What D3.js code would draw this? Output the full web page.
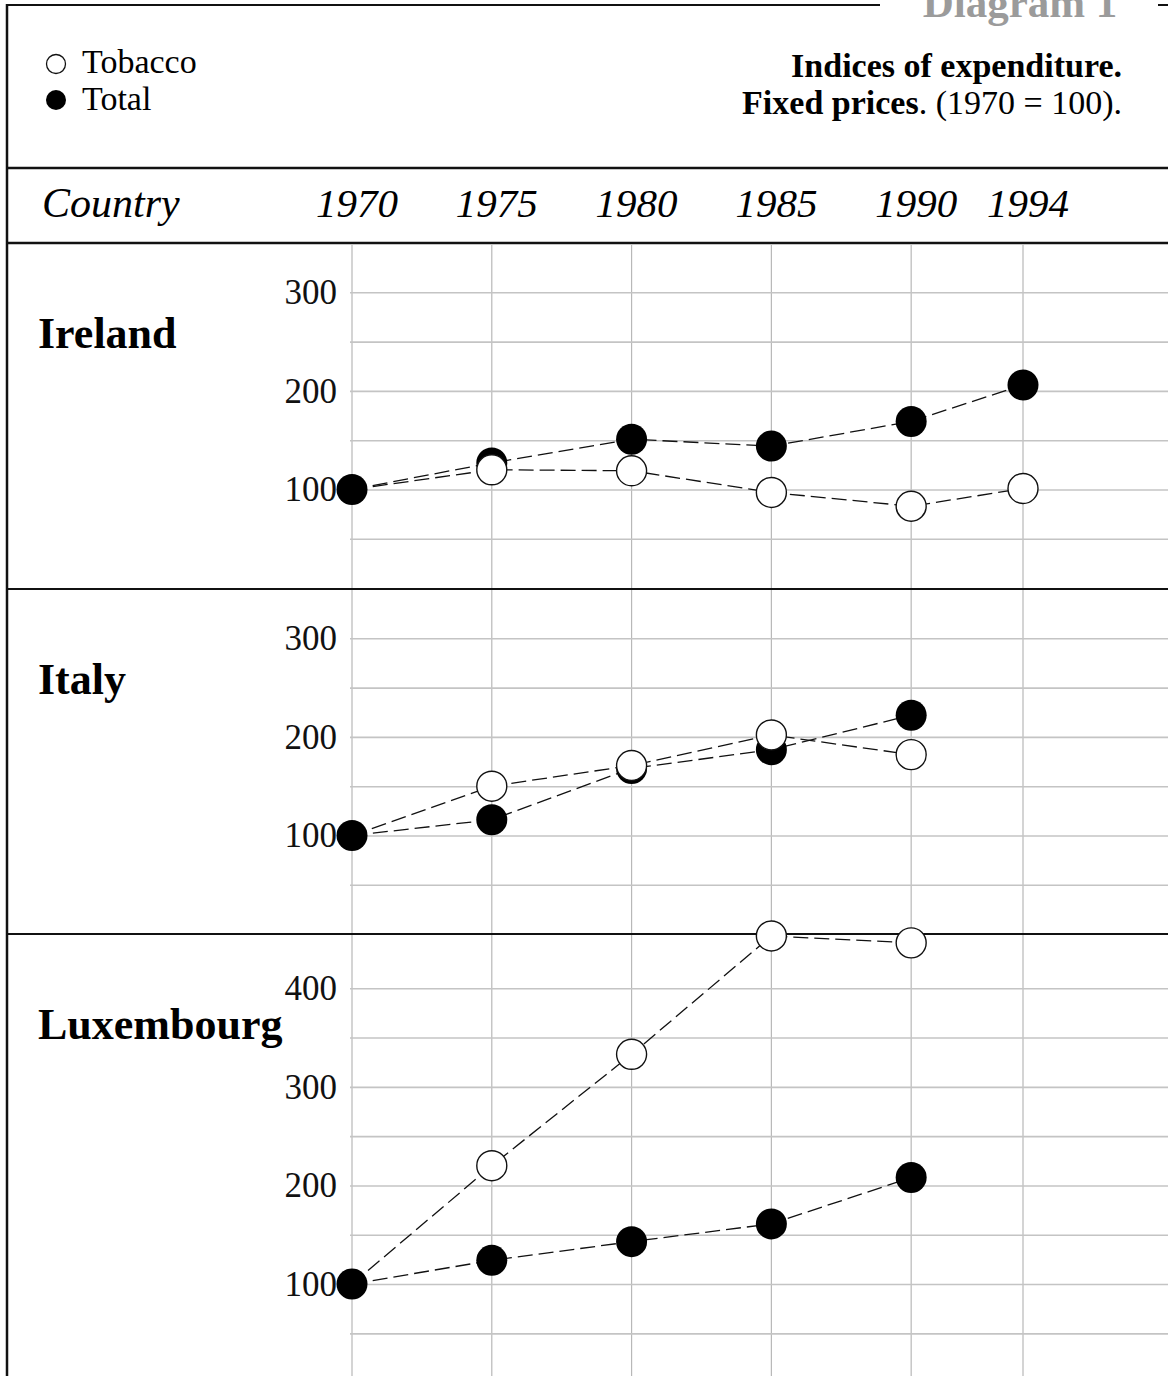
<!DOCTYPE html>
<html>
<head>
<meta charset="utf-8">
<script src="https://cdn.jsdelivr.net/npm/d3@7"></script>
<style>
  html, body { margin: 0; padding: 0; background: #fff; }
  svg { display: block; }
</style>
</head>
<body>
<div id="chart"></div>
<script>
// values, index = year
const years = [1970, 1975, 1980, 1985, 1990, 1994]
const countries = ['Ireland', 'Italy', 'Luxembourg']

const irelandTobacco = [100, 120, 119, 97, 83, 101]
const irelandTotal = [100, 127, 151, 144, 169, 206]
const italyTobacco = [100, 150, 171, 202, 182]
const italyTotal = [100, 116, 168, 187, 222]
const luxTobacco = [100, 220, 333, 453, 446]
const luxTotal = [100, 124, 143, 161, 208]

const ticksSmall = [100, 200, 300]
const ticksLarge = [100, 200, 300, 400]

const width = 1168
const height = 1376
const serif = '"Liberation Serif", "Times New Roman", serif'

const svg = d3.select('#chart')
  .append('svg')
  .attr('width', width)
  .attr('height', height)

// x scale : years -> column
const x = d3.scaleLinear()
  .domain([1970, 1994])
  .range([352, 1023])

const unit = 0.986 // px per index point
const panels = [
  { name: countries[0], top: 243, max: 350, grid: 300, ticks: ticksSmall, tobacco: irelandTobacco, total: irelandTotal },
  { name: countries[1], top: 589, max: 350, grid: 300, ticks: ticksSmall, tobacco: italyTobacco, total: italyTotal },
  { name: countries[2], top: 934, max: 455, grid: 400, ticks: ticksLarge, tobacco: luxTobacco, total: luxTotal }
]

// vertical grid
svg.append('g')
  .selectAll('line')
  .data(years)
  .join('line')
  .attr('x1', d => x(d)).attr('x2', d => x(d))
  .attr('y1', 245).attr('y2', height)
  .style('stroke', '#b8b8b8')
  .style('stroke-width', 1.2)

panels.forEach(p => {
  p.y = d3.scaleLinear()
    .domain([0, p.max])
    .range([p.top + p.max * unit, p.top])

  // horizontal grid
  const grid = svg.append('g')
    .attr('transform', `translate(350, 0)`)
    .call(d3.axisLeft(p.y)
      .tickValues(d3.range(50, p.grid + 1, 50))
      .tickSize(-(width - 350))
      .tickFormat(''))
  grid.select('.domain').remove()
  grid.selectAll('.tick line')
    .style('stroke', '#c4c4c4')
    .style('stroke-width', 1.6)

  // tick labels
  const labels = svg.append('g')
    .attr('transform', `translate(337, 0)`)
    .call(d3.axisLeft(p.y)
      .tickValues(p.ticks)
      .tickSize(0)
      .tickPadding(0))
  labels.select('.domain').remove()
  labels.selectAll('text')
    .attr('font-family', serif)
    .attr('font-size', 35)
    .attr('fill', '#111')

  // country name
  svg.append('text')
    .attr('x', 38)
    .attr('y', p.top + 105)
    .attr('font-family', serif)
    .attr('font-weight', 'bold')
    .attr('font-size', 44)
    .text(p.name)
})

// frame and separators
const frame = svg.append('g').style('stroke', '#111')
frame.append('line').attr('x1', 7).attr('x2', 7).attr('y1', 4).attr('y2', height).style('stroke-width', 2.5)
frame.append('line').attr('x1', 6).attr('x2', 880).attr('y1', 5).attr('y2', 5).style('stroke-width', 2)
frame.append('line').attr('x1', 1158).attr('x2', width).attr('y1', 5).attr('y2', 5).style('stroke-width', 2)
frame.selectAll('.sep')
  .data([168, 243, 589, 934])
  .join('line')
  .attr('class', 'sep')
  .attr('x1', 7).attr('x2', width)
  .attr('y1', d => d).attr('y2', d => d)
  .style('stroke-width', d => d < 250 ? 2.6 : 2.2)

// series lines + markers
panels.forEach(p => {
  const line = d3.line()
    .x((d, i) => x(years[i]))
    .y(d => p.y(d))
  const g = svg.append('g')
  ;[p.total, p.tobacco].forEach(s => {
    g.append('path')
      .attr('d', line(s))
      .style('fill', 'none')
      .style('stroke', '#111')
      .style('stroke-width', 1.3)
      .style('stroke-dasharray', '15,6')
  })
  g.selectAll('.tot')
    .data(p.total)
    .join('circle')
    .attr('class', 'tot')
    .attr('cx', (d, i) => x(years[i]))
    .attr('cy', d => p.y(d))
    .attr('r', 15.5)
    .style('fill', '#000')
  // base year (1970 = 100) is shared, the black marker sits on top
  g.selectAll('.tob')
    .data(p.tobacco.slice(1))
    .join('circle')
    .attr('class', 'tob')
    .attr('cx', (d, i) => x(years[i + 1]))
    .attr('cy', d => p.y(d))
    .attr('r', 15)
    .style('fill', '#fff')
    .style('stroke', '#111')
    .style('stroke-width', 1.4)
})

// column header
svg.append('text')
  .attr('x', 42).attr('y', 217)
  .attr('font-family', serif)
  .attr('font-style', 'italic')
  .attr('font-size', 42)
  .text('Country')
svg.append('g')
  .selectAll('text')
  .data(years)
  .join('text')
  .attr('x', d => x(d) + 5)
  .attr('y', 217)
  .attr('text-anchor', 'middle')
  .attr('font-family', serif)
  .attr('font-style', 'italic')
  .attr('font-size', 41)
  .text(d => d)

// legend
const legend = svg.append('g')
legend.append('circle').attr('cx', 56).attr('cy', 64).attr('r', 9.5)
  .style('fill', '#fff').style('stroke', '#111').style('stroke-width', 1.3)
legend.append('circle').attr('cx', 56).attr('cy', 100).attr('r', 10)
  .style('fill', '#000')
legend.append('text').attr('x', 82).attr('y', 73)
  .attr('font-family', serif).attr('font-size', 34).text('Tobacco')
legend.append('text').attr('x', 82).attr('y', 110)
  .attr('font-family', serif).attr('font-size', 34).text('Total')

// title block
svg.append('text')
  .attr('x', 1020).attr('y', 17)
  .attr('text-anchor', 'middle')
  .attr('font-family', serif)
  .attr('font-weight', 'bold')
  .attr('font-size', 43)
  .attr('fill', '#9b9b9b')
  .text('Diagram 1')
svg.append('text')
  .attr('x', 1122).attr('y', 77)
  .attr('text-anchor', 'end')
  .attr('font-family', serif)
  .attr('font-weight', 'bold')
  .attr('font-size', 34)
  .text('Indices of expenditure.')
const sub = svg.append('text')
  .attr('x', 1122).attr('y', 114)
  .attr('text-anchor', 'end')
  .attr('font-family', serif)
  .attr('font-size', 34)
sub.append('tspan').attr('font-weight', 'bold').text('Fixed prices')
sub.append('tspan').text('. (1970 = 100).')
</script>
</body>
</html>
